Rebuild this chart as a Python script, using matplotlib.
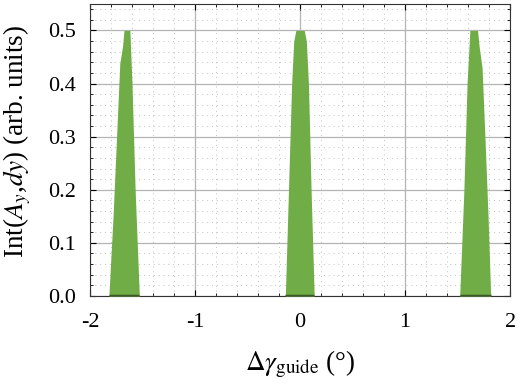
import matplotlib
matplotlib.use("Agg")
import matplotlib.pyplot as plt
from matplotlib.ticker import MultipleLocator

plt.rcParams["font.family"] = ["Liberation Serif", "DejaVu Serif"]
plt.rcParams["mathtext.fontset"] = "stix"
plt.rcParams["axes.unicode_minus"] = False

# outline of each peak (angle in degrees, integrated amplitude)
left_x = [-1.82, -1.78, -1.74, -1.716, -1.69, -1.676, -1.62, -1.60, -1.57, -1.53]
left_y = [0.0, 0.15, 0.33, 0.438, 0.47, 0.50, 0.50, 0.40, 0.20, 0.0]
mid_x = [-0.14, -0.11, -0.08, -0.06, -0.04, 0.04, 0.06, 0.08, 0.105, 0.135]
mid_y = [0.0, 0.20, 0.40, 0.48, 0.50, 0.50, 0.48, 0.40, 0.20, 0.0]
right_x = [1.52, 1.56, 1.59, 1.617, 1.69, 1.705, 1.733, 1.76, 1.79, 1.815]
right_y = [0.0, 0.20, 0.40, 0.50, 0.50, 0.47, 0.43, 0.30, 0.15, 0.0]

GREEN = "#70ad47"
DARK = "#3b5a24"

fig = plt.figure(figsize=(5.2, 3.92), dpi=100)
ax = fig.add_axes([0.173, 0.245, 0.808, 0.745])

for xs, ys in [(left_x, left_y), (mid_x, mid_y), (right_x, right_y)]:
    ax.fill_between(xs, ys, 0, color=GREEN, lw=0, zorder=3)
    ax.plot([xs[0], xs[-1]], [0, 0], color=DARK, lw=2.5, zorder=4,
            solid_capstyle="butt")

ax.set_xlim(-2, 2)
ax.set_ylim(0, 0.55)
ax.xaxis.set_major_locator(MultipleLocator(1))
ax.xaxis.set_minor_locator(MultipleLocator(0.2))
ax.yaxis.set_major_locator(MultipleLocator(0.1))
ax.yaxis.set_minor_locator(MultipleLocator(0.02))
ax.set_yticks([0, 0.1, 0.2, 0.3, 0.4, 0.5])
ax.set_yticklabels(["0.0", "0.1", "0.2", "0.3", "0.4", "0.5"])

ax.grid(True, which="major", color="#b4b4b4", lw=0.9, zorder=0)
ax.grid(True, which="minor", color="#c0c0c0", lw=0.7, ls=(0, (1, 4)), zorder=0)
ax.set_axisbelow(True)

ax.tick_params(which="both", direction="in", top=True, right=True,
               labelsize=16, colors="black")
ax.tick_params(axis="x", which="major", pad=12)
ax.tick_params(axis="y", which="major", pad=10)
ax.tick_params(which="major", length=4, width=0.8)
ax.tick_params(which="minor", length=2, width=0.6)
for s in ax.spines.values():
    s.set_color("#333333")
    s.set_linewidth(0.8)

ax.set_ylabel(r"Int($A_y$,$dy$) (arb. units)", fontsize=19.5, labelpad=8)
ax.yaxis.set_label_coords(-0.135, 0.53)
ax.set_xlabel(r"$\Delta\gamma_{\rm guide}$ (°)", fontsize=19.5, labelpad=12)

fig.savefig("out.png", dpi=100)
